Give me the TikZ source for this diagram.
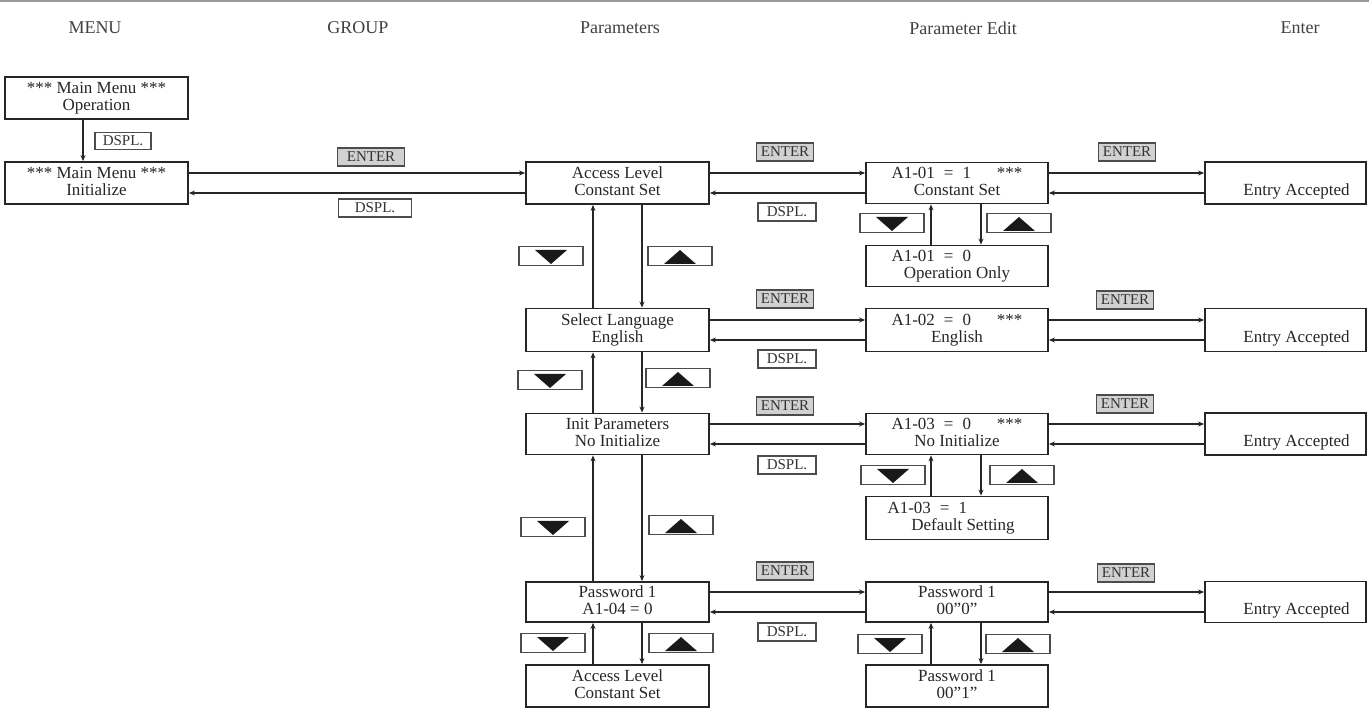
\documentclass[tikz,border=0pt]{standalone}
\usepackage{fontspec}
\setmainfont{Liberation Serif}
\usetikzlibrary{arrows.meta,calc}
\newcommand\bst{\rule[-3pt]{0pt}{14pt}}
\newcommand\hpair[2]{%
  \coordinate (f#1#2) at ($(#1.east)+(0,-10)$);
  \coordinate (b#1#2) at ($(#1.east)+(0,10)$);
  \draw[arr] (f#1#2) -- (f#1#2 -| #2.west);
  \draw[arr] (b#1#2 -| #2.west) -- (b#1#2);}
\newcommand\vpair[4]{%
  \draw[arr] (#2.north -| #3) -- (#1.south -| #3);
  \draw[arr] (#1.south -| #4) -- (#2.north -| #4);}
\newcommand\eq[2]{\makebox[131pt][l]{#1\hspace{9pt}=\hspace{9pt}#2}}
\newcommand\eqs[2]{\makebox[131pt][l]{#1\hspace{9pt}=\hspace{9pt}#2\hfill***}}
\begin{document}
\begin{tikzpicture}[x=1pt,y=-1pt,
  box/.style={draw=black!85, line width=1.8pt, inner sep=0pt, align=center,
    font=\fontsize{17}{17}\selectfont, text=black!85},
  pbox/.style={box, minimum width=183pt},
  ebox/.style={box, minimum width=182pt},
  abox/.style={box, minimum width=161pt},
  hdr/.style={font=\fontsize{18}{20}\selectfont, text=black!75},
  key/.style={draw=black!70, line width=1.3pt, inner sep=0pt, minimum height=18pt,
    font=\fontsize{15}{15}\selectfont, text=black!80},
  enterkey/.style={key, fill=black!18, minimum width=57pt},
  dsplkey/.style={key, fill=white, minimum width=58pt},
  arrowkey/.style={key, minimum width=64pt, minimum height=19pt},
  arr/.style={draw=black!85, line width=1.8pt, -{Stealth[length=6pt,width=5pt]}},
]
\useasboundingbox (0,0) rectangle (1369,708);
\draw[black!40, line width=2pt] (0,1) -- (1369,1);

% headers
\node[hdr] (hmenu) at (95,28) {MENU};
\node[hdr] (hgroup) at (358,28) {GROUP};
\node[hdr] (hpar) at (620,28) {Parameters};
\node[hdr] (hedit) at (963,28) {Parameter Edit};
\node[hdr] (hent) at (1300,28) {Enter};

% column x coordinates
\coordinate (xm) at (83,0);
\coordinate (xpu) at (593,0);
\coordinate (xpd) at (642,0);
\coordinate (xeu) at (931,0);
\coordinate (xed) at (981,0);

% MENU column
\node[pbox, minimum height=42pt] (op) at (96.5,98) {\bst*** Main Menu ***\\\bst Operation};
\node[pbox, minimum height=42pt] (ini) at (96.5,183) {\bst*** Main Menu ***\\\bst Initialize};

% Parameters column
\node[pbox, minimum height=42pt] (acc) at (617.5,183) {\bst Access Level\\\bst Constant Set};
\node[pbox, minimum height=43pt] (sel) at (617.5,330) {\bst Select Language\\\bst English};
\node[pbox, minimum height=41pt] (initp) at (617.5,434) {\bst Init Parameters\\\bst No Initialize};
\node[pbox, minimum height=40pt] (pw) at (617.5,602) {\bst Password 1\\\bst A1-04 = 0};
\node[pbox, minimum height=42pt] (acc2) at (617.5,686) {\bst Access Level\\\bst Constant Set};

% Parameter Edit column
\node[ebox, minimum height=41pt] (e1) at (957,183) {\bst\eqs{A1-01}{1}\\\bst Constant Set};
\node[ebox, minimum height=41pt] (e1b) at (957,266) {\bst\eq{A1-01}{0}\\\bst Operation Only};
\node[ebox, minimum height=43pt] (e2) at (957,330) {\bst\eqs{A1-02}{0}\\\bst English};
\node[ebox, minimum height=41pt] (e3) at (957,434) {\bst\eqs{A1-03}{0}\\\bst No Initialize};
\node[ebox, minimum height=43pt] (e3b) at (957,518) {\bst\makebox[139pt][l]{A1-03\hspace{9pt}=\hspace{9pt}1}\\\bst\hspace*{12pt}Default Setting};
\node[ebox, minimum height=40pt] (e4) at (957,602) {\bst Password 1\\\bst 00"0"};
\node[ebox, minimum height=42pt] (e4b) at (957,686) {\bst Password 1\\\bst 00"1"};

% Enter column
\node[abox, minimum height=42pt] (ea1) at (1285.5,183) {\bst\\\bst\hspace*{22pt}Entry Accepted};
\node[abox, minimum height=43pt] (ea2) at (1285.5,330) {\bst\\\bst\hspace*{22pt}Entry Accepted};
\node[abox, minimum height=42pt] (ea3) at (1285.5,434) {\bst\\\bst\hspace*{22pt}Entry Accepted};
\node[abox, minimum height=41pt] (ea4) at (1285.5,602) {\bst\\\bst\hspace*{22pt}Entry Accepted};

% connectors
\draw[arr] (op.south -| xm) -- (ini.north -| xm);
\hpair{ini}{acc}
\hpair{acc}{e1}
\hpair{e1}{ea1}
\hpair{sel}{e2}
\hpair{e2}{ea2}
\hpair{initp}{e3}
\hpair{e3}{ea3}
\hpair{pw}{e4}
\hpair{e4}{ea4}
\vpair{acc}{sel}{xpu}{xpd}
\vpair{sel}{initp}{xpu}{xpd}
\vpair{initp}{pw}{xpu}{xpd}
\vpair{pw}{acc2}{xpu}{xpd}
\vpair{e1}{e1b}{xeu}{xed}
\vpair{e3}{e3b}{xeu}{xed}
\vpair{e4}{e4b}{xeu}{xed}

% key labels
\node[dsplkey, minimum width=56pt, minimum height=17pt] (kd0) at (123,141) {DSPL.};
\node[enterkey, minimum width=67pt] (ke0) at (371,157) {ENTER};
\node[dsplkey, minimum width=73pt] (kd00) at (375,208) {DSPL.};
\foreach \n/\x/\y in {ke1/785/152, ke2/1127/152, ke3/785/299, ke4/1125/300,
    ke5/785/406, ke6/1125/404, ke7/785/571, ke8/1126/573}
  {\node[enterkey] (\n) at (\x,\y) {ENTER};}
\foreach \n/\x/\y in {kd1/787/212, kd2/787/359, kd3/787/465, kd4/787/632}
  {\node[dsplkey] (\n) at (\x,\y) {DSPL.};}
\foreach \n/\x/\y in {kdn1/551/256, kdn2/550/380, kdn3/553/527, kdn4/553/643,
    kdn5/892/223, kdn6/893/475, kdn7/890/644}
  {\node[arrowkey] (\n) at (\x,\y) {};
   \fill[black!90] (\n.center) ++(-16,-6) -- ++(32,0) -- ++(-16,14) -- cycle;}
\foreach \n/\x/\y in {kup1/680/256, kup2/678/378, kup3/681/525, kup4/681/643,
    kup5/1019/223, kup6/1022/475, kup7/1018/644}
  {\node[arrowkey] (\n) at (\x,\y) {};
   \fill[black!90] (\n.center) ++(-16,8) -- ++(32,0) -- ++(-16,-14) -- cycle;}
\end{tikzpicture}
\end{document}
